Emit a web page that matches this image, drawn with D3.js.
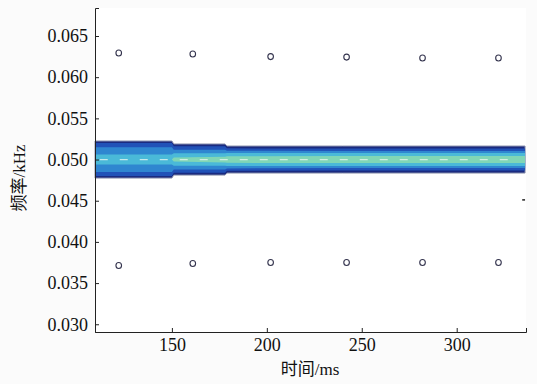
<html>
<head>
<meta charset="utf-8">
<style>
  body { margin: 0; background: #fbfbfb; }
  svg text { font-family: "Times New Roman", "Liberation Serif", serif; fill: #111; }
  .cjk { font-family: "Times New Roman", "Liberation Serif", "Noto Sans CJK SC", serif; }
</style>
</head>
<body>
<div id="viz"></div>
<script src="https://d3js.org/d3.v7.min.js"></script>
<script>
var width = 537, height = 384;

// axis ticks
var xTicks = [150, 200, 250, 300];
var yTicks = [0.030, 0.035, 0.040, 0.045, 0.050, 0.055, 0.060, 0.065];

// main band: time points and half widths (kHz) of each contour level around centre
var bandCentre = 0.0500;
var bandTime = [109.5, 150, 151, 178, 179, 240, 336];
var levelColors = ["#1a2a80", "#2152b8", "#2f86d0", "#4ab9d8", "#80d6b6"];
var levelHalf = [
  [0.00225, 0.00225, 0.00189, 0.00189, 0.00164, 0.00164, 0.00164],
  [0.00200, 0.00200, 0.00160, 0.00160, 0.00136, 0.00134, 0.00134],
  [0.00150, 0.00150, 0.00120, 0.00120, 0.00108, 0.00103, 0.00103],
  [0.00060, 0.00060, 0.00075, 0.00075, 0.00078, 0.00079, 0.00079],
  [0.00000, 0.00000, 0.00025, 0.00035, 0.00040, 0.00043, 0.00043]
];

// small closed contours above and below the band
var spotTime = [122, 161, 202, 242, 282, 322];
var spotUpper = [0.06293, 0.06281, 0.06250, 0.06244, 0.06232, 0.06232];
var spotLower = [0.03713, 0.03737, 0.03750, 0.03750, 0.03750, 0.03750];

var svg = d3.select("#viz").append("svg")
  .attr("width", width).attr("height", height);

var x = d3.scaleLinear().domain([109.5, 336.5]).range([95, 526]);
var y = d3.scaleLinear().domain([0.02906, 0.0684]).range([332, 8]);

svg.append("rect").attr("x", 95).attr("y", 8).attr("width", 431).attr("height", 324)
  .attr("fill", "#ffffff");

// band levels
var area = d3.area()
  .x(function (d, i) { return x(bandTime[i]); })
  .y0(function (d) { return y(bandCentre - d); })
  .y1(function (d) { return y(bandCentre + d); });
levelHalf.forEach(function (half, k) {
  svg.append("path")
    .datum(half)
    .attr("d", area)
    .attr("fill", levelColors[k])
    .attr("stroke", k === 0 ? "#8a90ac" : "none")
    .attr("stroke-width", 1);
});

// faint white streaks in centre of band
svg.append("line")
  .attr("x1", x(112)).attr("x2", x(330))
  .attr("y1", y(bandCentre)).attr("y2", y(bandCentre))
  .attr("stroke", "#eef8f2").attr("stroke-width", 1.3)
  .attr("stroke-dasharray", "8,12").attr("opacity", 0.75);

// small contour rings
function spots(vals) {
  svg.selectAll(null).data(vals).enter().append("ellipse")
    .attr("cx", function (d, i) { return x(spotTime[i]); })
    .attr("cy", function (d) { return y(d); })
    .attr("rx", 2.8).attr("ry", 3)
    .attr("fill", "none").attr("stroke", "#34344e").attr("stroke-width", 1.1);
}
spots(spotUpper);
spots(spotLower);

// small mark at right edge
svg.append("line")
  .attr("x1", x(334.5)).attr("x2", x(336)).attr("y1", y(0.0451)).attr("y2", y(0.0451))
  .attr("stroke", "#222").attr("stroke-width", 1.5);

// axes
var xAxis = svg.append("g").attr("transform", "translate(0,332)")
  .call(d3.axisBottom(x).tickValues(xTicks).tickSizeInner(-4).tickSizeOuter(-4).tickPadding(6));
var yAxis = svg.append("g").attr("transform", "translate(95,0)")
  .call(d3.axisLeft(y).tickValues(yTicks).tickFormat(d3.format(".3f")).tickSizeInner(-4).tickSizeOuter(-4).tickPadding(7));
[xAxis, yAxis].forEach(function (g) {
  g.selectAll("text").style("font-size", "18px").attr("fill", "#111");
  g.selectAll("path, line").attr("stroke", "#222");
});

svg.append("text").attr("class", "cjk")
  .attr("x", 310).attr("y", 375).attr("text-anchor", "middle")
  .style("font-size", "17px").text("时间/ms");
svg.append("text").attr("class", "cjk")
  .attr("transform", "translate(25,178) rotate(-90)").attr("text-anchor", "middle")
  .style("font-size", "17px").text("频率/kHz");
</script>
</body>
</html>
